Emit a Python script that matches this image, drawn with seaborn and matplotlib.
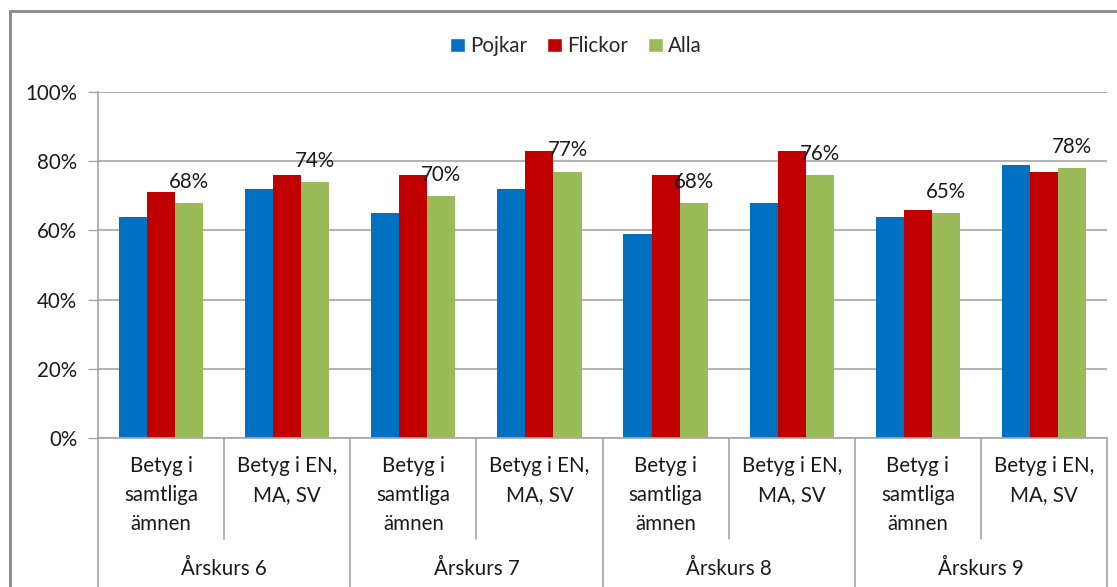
import matplotlib
matplotlib.use("Agg")
import matplotlib.pyplot as plt
import seaborn as sns
import pandas as pd
from matplotlib.patches import Rectangle, Patch

# Data
arskurser = ["Årskurs 6", "Årskurs 7", "Årskurs 8", "Årskurs 9"]
delar = ["Betyg i\nsamtliga\nämnen", "Betyg i EN,\nMA, SV"]
grupper = ["Pojkar", "Flickor", "Alla"]
pojkar = [0.64, 0.72, 0.65, 0.72, 0.59, 0.68, 0.64, 0.79]
flickor = [0.71, 0.76, 0.76, 0.83, 0.76, 0.83, 0.66, 0.77]
alla = [0.68, 0.74, 0.70, 0.77, 0.68, 0.76, 0.65, 0.78]
farger = ["#0070C0", "#C00000", "#9BBB59"]

kategorier = [f"{a}|{d}" for a in arskurser for d in delar]
rows = []
for grupp, vals in zip(grupper, [pojkar, flickor, alla]):
    for kat, v in zip(kategorier, vals):
        rows.append({"kategori": kat, "grupp": grupp, "andel": v})
df = pd.DataFrame(rows)

sns.set_theme(style="white")
plt.rcParams["font.family"] = ["Lato", "DejaVu Sans"]
FS = 14.8
grid_col = "#A6A6A6"

W, H = 1117, 587
fig = plt.figure(figsize=(W / 100, H / 100), dpi=100)
ax = fig.add_axes([98 / W, 1 - 438 / H, (1107 - 98) / W, (438 - 92) / H])

sns.barplot(data=df, x="kategori", y="andel", hue="grupp", order=kategorier,
            hue_order=grupper, palette=farger, saturation=1, width=0.667,
            linewidth=0, ax=ax, legend=False)

# data labels only on "Alla"
ax.bar_label(ax.containers[2], fmt=lambda v: f"{v * 100:.0f}%", padding=8,
             fontsize=FS, color="#1a1a1a")

ax.set_ylim(0, 1)
ax.set_xlim(-0.5, len(kategorier) - 0.5)
ax.set_yticks([0, 0.2, 0.4, 0.6, 0.8, 1.0])
ax.set_yticklabels(["0%", "20%", "40%", "60%", "80%", "100%"], fontsize=FS, color="#1a1a1a")
ax.yaxis.grid(True, color=grid_col, linewidth=1.2)
ax.set_axisbelow(True)
ax.tick_params(axis="y", left=True, length=7, width=1, color=grid_col, pad=8)
ax.tick_params(axis="x", bottom=False, labelbottom=False)
ax.set_xlabel("")
ax.set_ylabel("")
for s in ["top", "right"]:
    ax.spines[s].set_visible(False)
for s in ["left", "bottom"]:
    ax.spines[s].set_color(grid_col)
    ax.spines[s].set_linewidth(1.2)

# two-level category axis
tr = ax.get_xaxis_transform()
ph = 438 - 92
for i, kat in enumerate(kategorier):
    ax.text(i, -(456 - 438) / ph, kat.split("|")[1], transform=tr, ha="center",
            va="top", fontsize=FS, linespacing=1.57, color="#1a1a1a")
for j, a in enumerate(arskurser):
    ax.text(2 * j + 0.5, -(569 - 438) / ph, a, transform=tr, ha="center",
            va="center", fontsize=FS, color="#1a1a1a")
for k in range(len(kategorier) + 1):
    x = k - 0.5
    y_end = -(539 - 438) / ph if k % 2 == 1 else -0.5
    ax.plot([x, x], [0, y_end], transform=tr, color=grid_col, lw=1.2, clip_on=False)

# legend
handles = [Patch(facecolor=c, label=g) for c, g in zip(farger, grupper)]
fig.legend(handles=handles, loc="center", bbox_to_anchor=(576 / W, 1 - 46 / H),
           ncol=3, frameon=False, fontsize=FS, handlelength=0.7, handleheight=0.7,
           handletextpad=0.25, columnspacing=1.0)

# outer chart frame (cut off on right and bottom)
fig.patches.append(Rectangle((10 / W, -0.05), 1.2, 1.05 - 11 / H, transform=fig.transFigure,
                             fill=False, edgecolor="#888888", linewidth=2))

fig.savefig("out.png", dpi=100)
